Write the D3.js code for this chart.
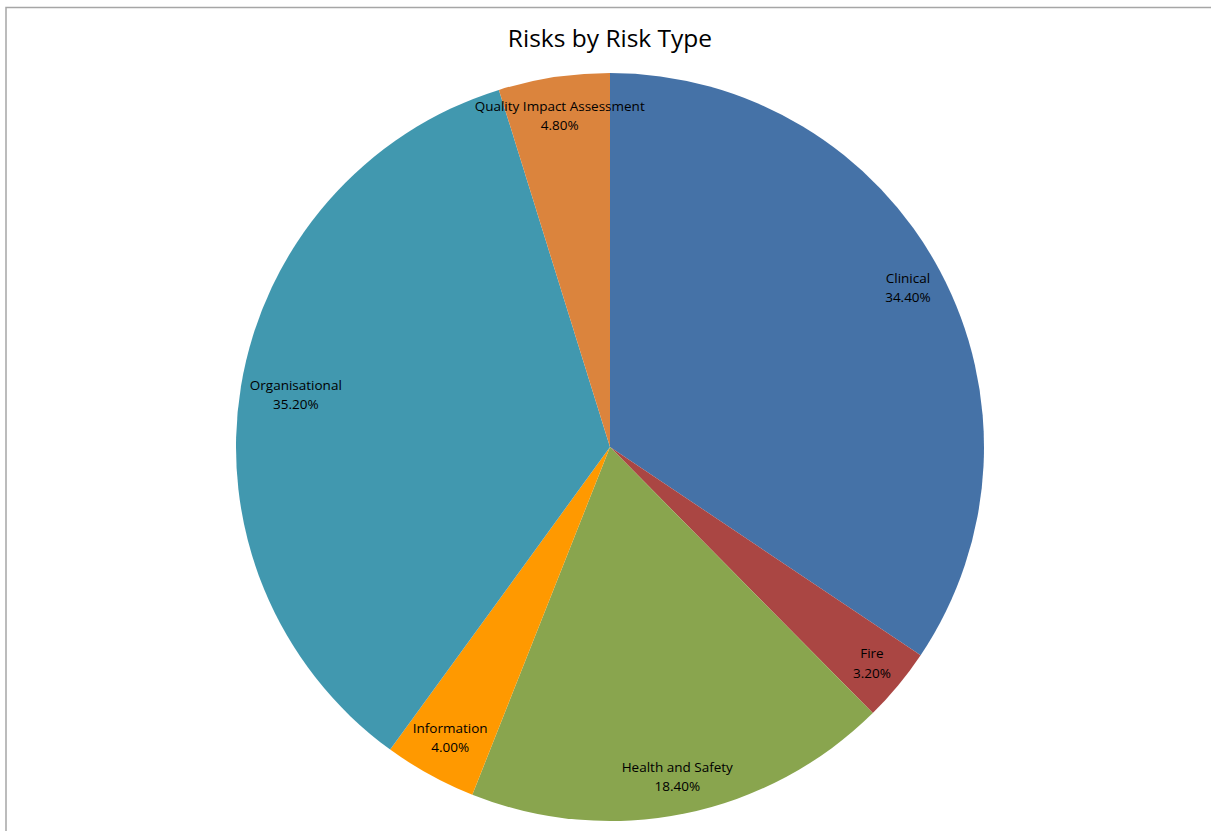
<!DOCTYPE html>
<html><head><meta charset="utf-8">
<script src="https://cdn.jsdelivr.net/npm/d3@7"></script>
<style>html,body{margin:0;padding:0;background:#fff;}svg{display:block;}</style>
</head><body>
<svg id="chart" width="1211" height="831"></svg>
<script>
const categories = ["Clinical","Fire","Health and Safety","Information","Organisational","Quality Impact Assessment"];
const values = [34.4, 3.2, 18.4, 4.0, 35.2, 4.8];
const colors = ["#4572A7","#AA4643","#89A54E","#FF9900","#4198AF","#DB843D"];
const title = "Risks by Risk Type";

const W = 1211, H = 831;
const svg = d3.select("#chart");
svg.append("rect").attr("x",6).attr("y",7.5).attr("width",W).attr("height",H)
  .attr("fill","#fff").attr("stroke","#a6a6a6").attr("stroke-width",1.5);

svg.append("text").attr("x",610).attr("y",47).attr("text-anchor","middle")
  .attr("font-family","'Open Sans', sans-serif").attr("font-size",24.5).attr("fill","#000").text(title);

const cx = 610, cy = 447, r = 374;
const data = categories.map((c,i)=>({cat:c, value:values[i], color:colors[i]}));
const pie = d3.pie().value(d=>d.value).sort(null);
const arcs = pie(data);
const arc = d3.arc().innerRadius(0).outerRadius(r);
const g = svg.append("g").attr("transform",`translate(${cx},${cy})`);
g.selectAll("path").data(arcs).join("path").attr("d",arc).attr("fill",d=>d.data.color);

const fmt = v => v.toFixed(2) + "%";
const fontSize = 13.5, lineH = 19.5;
const lbl = g.selectAll("g.lbl").data(arcs).join("g").attr("class","lbl");
lbl.each(function(d){
  const t = d3.select(this).append("text").attr("text-anchor","middle")
    .attr("font-family","'Open Sans', sans-serif").attr("font-size",fontSize).attr("fill","#000");
  t.append("tspan").attr("x",0).attr("y",-lineH/2+4.5).text(d.data.cat);
  t.append("tspan").attr("x",0).attr("y",lineH/2+4.5).text(fmt(d.data.value));
  const bb = t.node().getBBox();
  const a = (d.startAngle+d.endAngle)/2;
  const ux = Math.sin(a), uy = -Math.cos(a);
  const support = Math.abs(ux)*bb.width/2 + Math.abs(uy)*(lineH*2)/2;
  const rho = (r - 7) - support;
  d3.select(this).attr("transform",`translate(${rho*ux},${rho*uy})`);
});
</script>
</body></html>
